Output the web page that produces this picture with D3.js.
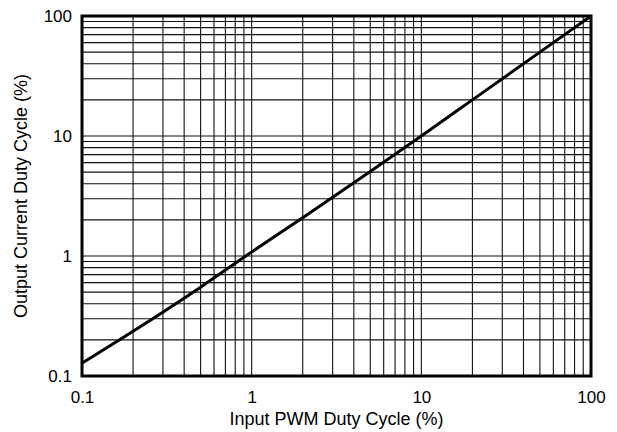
<!DOCTYPE html>
<html>
<head>
<meta charset="utf-8">
<script src="https://cdn.jsdelivr.net/npm/d3@7"></script>
<style>
  html, body { margin: 0; padding: 0; background: #fff; }
  svg { display: block; font-family: "Liberation Sans", Arial, Helvetica, sans-serif; }
</style>
</head>
<body>
<div id="chart"></div>
<script>
// values
var inputDuty = [0.1, 0.2, 0.5, 1, 2, 5, 10, 20, 50, 100];
var outputDuty = [0.128, 0.236, 0.55, 1.08, 2.08, 5.05, 10, 20, 50, 100];

var xTicks = [0.1, 1, 10, 100];
var yTicks = [0.1, 1, 10, 100];
var xTickLabels = ['0.1', '1', '10', '100'];
var yTickLabels = ['0.1', '1', '10', '100'];

var xTitle = 'Input PWM Duty Cycle (%)';
var yTitle = 'Output Current Duty Cycle (%)';

var width = 617, height = 432;
var margin = { top: 16, right: 26, bottom: 56, left: 82 };
var plotW = width - margin.left - margin.right;
var plotH = height - margin.top - margin.bottom;

var svg = d3.select('#chart').append('svg')
    .attr('width', width)
    .attr('height', height);

var x = d3.scaleLog().domain([0.1, 100]).range([0, plotW]);
var y = d3.scaleLog().domain([0.1, 100]).range([plotH, 0]);

var g = svg.append('g')
    .attr('transform', 'translate(' + margin.left + ',' + margin.top + ')');

// grid: every 1..9 step of each decade
function gridValues(scale) {
  return scale.ticks().filter(function(v) {
    return v > 0.1 * 1.0001 && v < 100 / 1.0001;
  });
}

g.append('g').attr('class', 'grid-x')
  .selectAll('line')
    .data(gridValues(x))
  .enter().append('line')
    .attr('x1', function(d) { return x(d); })
    .attr('x2', function(d) { return x(d); })
    .attr('y1', 0)
    .attr('y2', plotH)
    .attr('stroke', '#111')
    .attr('stroke-width', 1.1);

g.append('g').attr('class', 'grid-y')
  .selectAll('line')
    .data(gridValues(y))
  .enter().append('line')
    .attr('y1', function(d) { return y(d); })
    .attr('y2', function(d) { return y(d); })
    .attr('x1', 0)
    .attr('x2', plotW)
    .attr('stroke', '#111')
    .attr('stroke-width', 1.1);

// the curve
var line = d3.line()
    .x(function(d) { return x(d[0]); })
    .y(function(d) { return y(d[1]); })
    .curve(d3.curveMonotoneX);

g.append('path')
    .datum(d3.zip(inputDuty, outputDuty))
    .attr('fill', 'none')
    .attr('stroke', '#000')
    .attr('stroke-width', 3)
    .attr('d', line);

// frame
g.append('rect')
    .attr('x', 0).attr('y', 0)
    .attr('width', plotW).attr('height', plotH)
    .attr('fill', 'none')
    .attr('stroke', '#000')
    .attr('stroke-width', 3);

// axes, labels only
var xAxis = d3.axisBottom(x)
    .tickValues(xTicks)
    .tickSize(0)
    .tickPadding(15)
    .tickFormat(function(d, i) { return xTickLabels[i]; });

var yAxis = d3.axisLeft(y)
    .tickValues(yTicks)
    .tickSize(0)
    .tickPadding(10)
    .tickFormat(function(d, i) { return yTickLabels[i]; });

var gx = g.append('g')
    .attr('transform', 'translate(0,' + plotH + ')')
    .call(xAxis);
var gy = g.append('g').call(yAxis);

[gx, gy].forEach(function(a) {
  a.select('.domain').remove();
  a.selectAll('text')
      .attr('fill', '#000')
      .style('font-size', '17px')
      .style('font-family', '"Liberation Sans", Arial, Helvetica, sans-serif');
});

svg.append('text')
    .attr('x', margin.left + plotW / 2)
    .attr('y', 425)
    .attr('text-anchor', 'middle')
    .style('font-size', '18px')
    .text(xTitle);

svg.append('text')
    .attr('transform', 'translate(27,' + (margin.top + plotH / 2) + ') rotate(-90)')
    .attr('text-anchor', 'middle')
    .style('font-size', '18px')
    .text(yTitle);
</script>
</body>
</html>
